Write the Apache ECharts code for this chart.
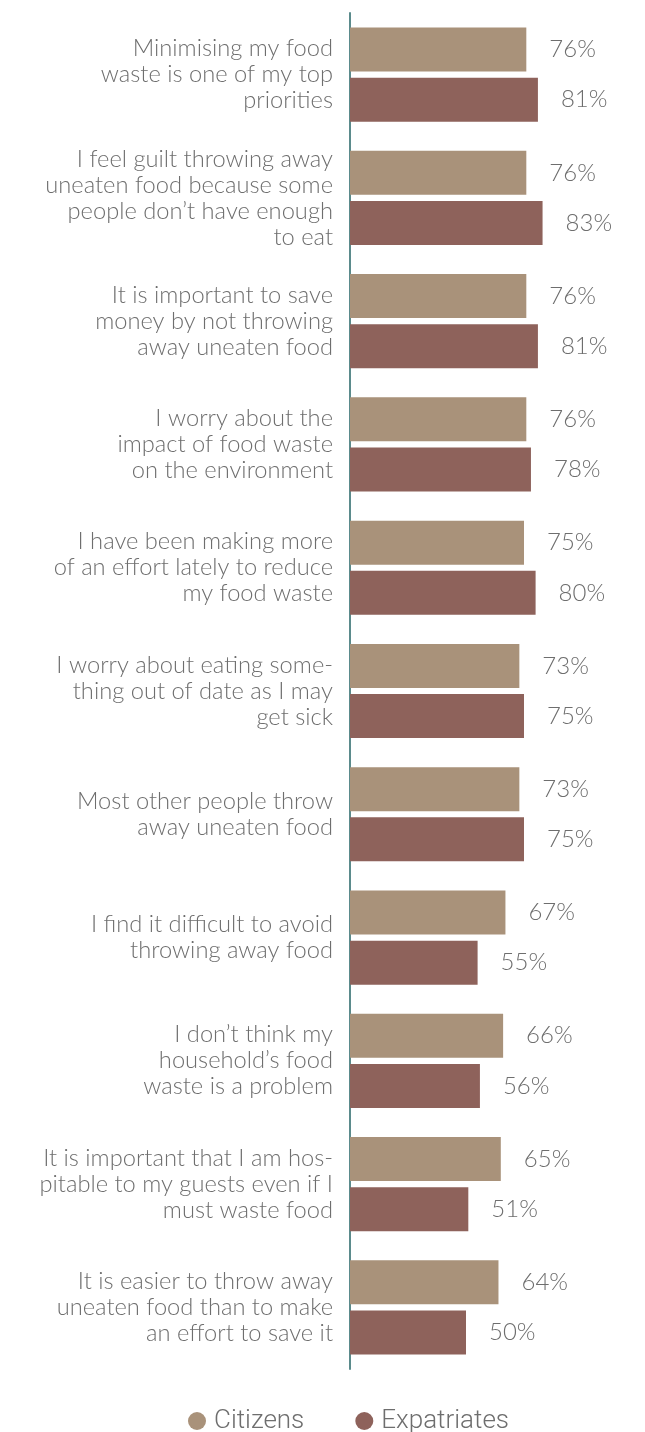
<!DOCTYPE html>
<html>
<head>
<meta charset="utf-8">
<script src="https://cdn.jsdelivr.net/npm/echarts@6/dist/echarts.min.js"></script>
<style>
  html, body { margin: 0; padding: 0; background: #ffffff; }
  #chart { width: 645px; height: 1432px; }
</style>
</head>
<body>
<div id="chart"></div>
<script>
// Survey statements (top to bottom)
const statements = [
  "Minimising my food\nwaste is one of my top\npriorities",
  "I feel guilt throwing away\nuneaten food because some\npeople don’t have enough\nto eat",
  "It is important to save\nmoney by not throwing\naway uneaten food",
  "I worry about the\nimpact of food waste\non the environment",
  "I have been making more\nof an effort lately to reduce\nmy food waste",
  "I worry about eating some-\nthing out of date as I may\nget sick",
  "Most other people throw\naway uneaten food",
  "I find it difficult to avoid\nthrowing away food",
  "I don’t think my\nhousehold’s food\nwaste is a problem",
  "It is important that I am hos-\npitable to my guests even if I\nmust waste food",
  "It is easier to throw away\nuneaten food than to make\nan effort to save it"
];

// Share agreeing, in percent
const citizens = [76, 76, 76, 76, 75, 73, 73, 67, 66, 65, 64];
const expatriates = [81, 83, 81, 78, 80, 75, 75, 55, 56, 51, 50];

const seriesNames = ["Citizens", "Expatriates"];

const FONT = "Lato, 'Open Sans', sans-serif";
const TEXT = "#6e6e6e";

const chart = echarts.init(document.getElementById("chart"));

const valueLabel = {
  show: true,
  position: "right",
  distance: 23,
  formatter: "{c}%",
  fontFamily: FONT,
  fontWeight: 300,
  fontSize: 24,
  color: TEXT
};

chart.setOption({
  animation: false,
  grid: { left: 350, top: 13, width: 232, height: 1356, containLabel: false },
  legend: {
    data: seriesNames,
    top: 1404,
    left: 188,
    icon: "circle",
    itemWidth: 18,
    itemHeight: 18,
    itemGap: 51,
    padding: 0,
    textStyle: {
      fontFamily: "Roboto, sans-serif",
      fontWeight: 300,
      fontSize: 26,
      lineHeight: 34,
      color: TEXT,
      padding: [0, 0, 0, 3]
    }
  },
  xAxis: {
    type: "value",
    min: 0,
    max: 100,
    show: false
  },
  yAxis: {
    type: "category",
    data: statements,
    inverse: true,
    axisLine: { show: true, lineStyle: { color: "#5b8b8c", width: 2 } },
    axisTick: { show: false },
    axisLabel: {
      margin: 17,
      fontFamily: FONT,
      fontWeight: 300,
      fontSize: 23.7,
      lineHeight: 26,
      color: TEXT,
      align: "right",
      padding: [0, 0, 6, 0]
    }
  },
  series: [
    {
      name: seriesNames[0],
      type: "bar",
      data: citizens,
      barWidth: 44,
      barGap: "14%",
      itemStyle: { color: "#a9927a" },
      label: valueLabel
    },
    {
      name: seriesNames[1],
      type: "bar",
      data: expatriates,
      barWidth: 44,
      itemStyle: { color: "#8e625b" },
      label: valueLabel
    }
  ]
});
</script>
</body>
</html>
